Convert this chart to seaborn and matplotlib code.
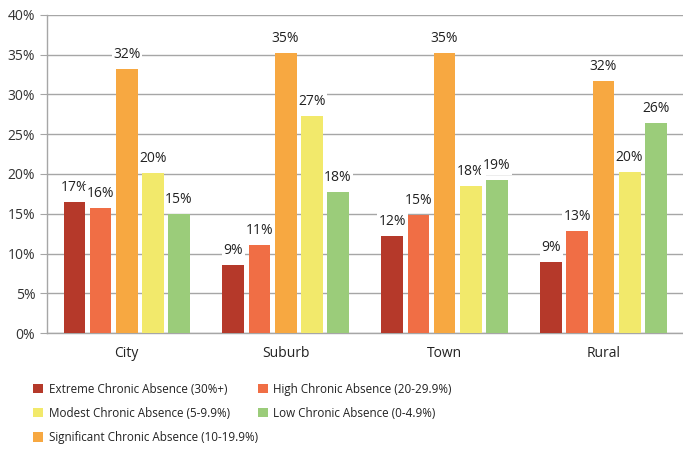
import pandas as pd
import matplotlib
matplotlib.use('Agg')
import matplotlib.pyplot as plt
import seaborn as sns
from matplotlib.patches import Patch

# datos
categories = ['City', 'Suburb', 'Town', 'Rural']
series = ['Extreme Chronic Absence (30%+)', 'High Chronic Absence (20-29.9%)',
          'Significant Chronic Absence (10-19.9%)', 'Modest Chronic Absence (5-9.9%)',
          'Low Chronic Absence (0-4.9%)']
extreme = [16.5, 8.6, 12.2, 8.9]
high = [15.7, 11.1, 14.8, 12.8]
significant = [33.2, 35.2, 35.2, 31.7]
modest = [20.1, 27.3, 18.5, 20.2]
low = [15.0, 17.7, 19.2, 26.4]
labels = [['17%', '9%', '12%', '9%'],
          ['16%', '11%', '15%', '13%'],
          ['32%', '35%', '35%', '32%'],
          ['20%', '27%', '18%', '20%'],
          ['15%', '18%', '19%', '26%']]
colors = ['#B5392A', '#F06E45', '#F7A841', '#F2E96B', '#9BCC7A']

rows = []
for s, vals in zip(series, [extreme, high, significant, modest, low]):
    for c, v in zip(categories, vals):
        rows.append({'Area': c, 'Serie': s, 'Valor': v})
df = pd.DataFrame(rows)

sns.set_style('white')
plt.rcParams['font.family'] = ['Open Sans', 'DejaVu Sans']

fig = plt.figure(figsize=(6.83, 4.49), dpi=100)
ax = fig.add_axes([0.069, 0.258, 0.931, 0.709])

sns.barplot(data=df, x='Area', y='Valor', hue='Serie', palette=colors,
            width=0.82, gap=0.16, saturation=1, linewidth=0, legend=False,
            ax=ax, zorder=3)

# etiquetas con fondo blanco
for cont, labs in zip(ax.containers, labels):
    for bar, lab in zip(cont, labs):
        ax.annotate(lab, (bar.get_x() + bar.get_width() / 2, bar.get_height()),
                    xytext=(0, 5), textcoords='offset points', ha='center', va='bottom',
                    fontsize=10, color='#222222', zorder=4,
                    bbox=dict(boxstyle='square,pad=0.1', fc='white', ec='none'))

ax.set_ylim(0, 40)
ax.set_xlim(-0.5, 3.5)
ax.set_yticks(range(0, 41, 5))
ax.set_yticklabels([f'{t}%' for t in range(0, 41, 5)], fontsize=10, color='#333333')
ax.yaxis.grid(True, color='#A6A6A6', linewidth=1)
ax.set_axisbelow(True)
ax.set_xlabel('')
ax.set_ylabel('')
ax.tick_params(axis='x', which='major', length=0, labelsize=10, labelcolor='#222222', pad=9)
ax.set_xticks([-0.5, 0.5, 1.5, 2.5, 3.5], minor=True)
ax.tick_params(axis='x', which='minor', length=5, color='#A6A6A6', direction='out')
ax.tick_params(axis='y', length=5, color='#A6A6A6', direction='out', left=True)
for sp in ['top', 'right']:
    ax.spines[sp].set_visible(False)
for sp in ['left', 'bottom']:
    ax.spines[sp].set_color('#A6A6A6')
    ax.spines[sp].set_linewidth(1)

# leyenda (orden por columnas)
orden = [0, 3, 2, 1, 4]
handles = [Patch(facecolor=colors[i], edgecolor='none') for i in orden]
names = [series[i] for i in orden]
fig.legend(handles, names, loc='upper left', bbox_to_anchor=(0.048, 0.148), ncol=2,
           frameon=False, fontsize=8.4, handlelength=0.85, handleheight=0.85,
           handletextpad=0.5, labelspacing=0.97, columnspacing=0.0,
           labelcolor='#222222', borderaxespad=0, borderpad=0)

plt.savefig('out.png', dpi=100)
